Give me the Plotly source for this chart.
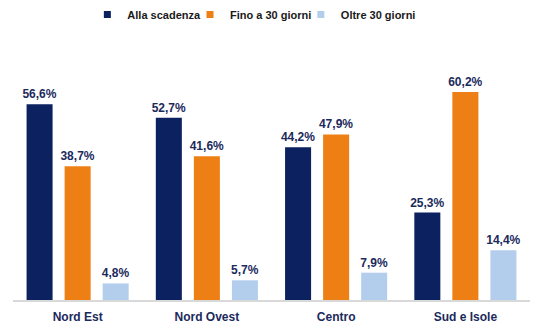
import plotly.graph_objects as go

categories = ["Nord Est", "Nord Ovest", "Centro", "Sud e Isole"]
alla_scadenza = [56.6, 52.7, 44.2, 25.3]
fino_30 = [38.7, 41.6, 47.9, 60.2]
oltre_30 = [4.8, 5.7, 7.9, 14.4]

series_names = ["Alla scadenza", "Fino a 30 giorni", "Oltre 30 giorni"]
series_values = [alla_scadenza, fino_30, oltre_30]
series_colors = ["#0B2160", "#EE7F14", "#B3CEEC"]
legend_x = [0.160, 0.348, 0.551]

navy = "#1B2A5C"
font_family = "Liberation Sans, Arial, sans-serif"

fig = go.Figure()
for i, (name, vals, color) in enumerate(zip(series_names, series_values, series_colors)):
    fig.add_trace(go.Bar(
        x=categories, y=vals, name=name, showlegend=False,
        marker=dict(color=color, line=dict(width=0)),
        texttemplate="%{y:.1f}%", textposition="outside",
        textfont=dict(color=navy, size=12, family=font_family, weight="bold"),
        constraintext="none",
        cliponaxis=False,
    ))
    lg = "legend" if i == 0 else f"legend{i+1}"
    fig.add_trace(go.Scatter(
        x=[None], y=[None], mode="markers", name=name, legend=lg,
        marker=dict(symbol="square", size=7, color=color),
        showlegend=True,
    ))

legend_common = dict(orientation="h", yref="container", y=1.0, yanchor="top",
                      xref="container", xanchor="left", itemwidth=30,
                      font=dict(size=11, color="#1a1a1a", family=font_family, weight="bold"),
                      bgcolor="rgba(0,0,0,0)")

fig.update_layout(
    width=546, height=332,
    margin=dict(l=13, r=16, t=58, b=32, autoexpand=False),
    paper_bgcolor="white", plot_bgcolor="white",
    separators=",.",
    barmode="group", bargap=0.117, bargroupgap=0.316,
    font=dict(family=font_family, color=navy, size=12),
    legend=dict(x=legend_x[0], **legend_common),
    legend2=dict(x=legend_x[1], **legend_common),
    legend3=dict(x=legend_x[2], **legend_common),
    xaxis=dict(showline=True, linecolor="#D9D9D9", linewidth=2, ticks="",
               ticklabelstandoff=5, automargin=False,
               tickfont=dict(size=12, color=navy, family=font_family, weight="bold")),
    yaxis=dict(range=[0, 70], visible=False, showgrid=False, zeroline=False,
               automargin=False),
)

fig.write_html("out.html")
